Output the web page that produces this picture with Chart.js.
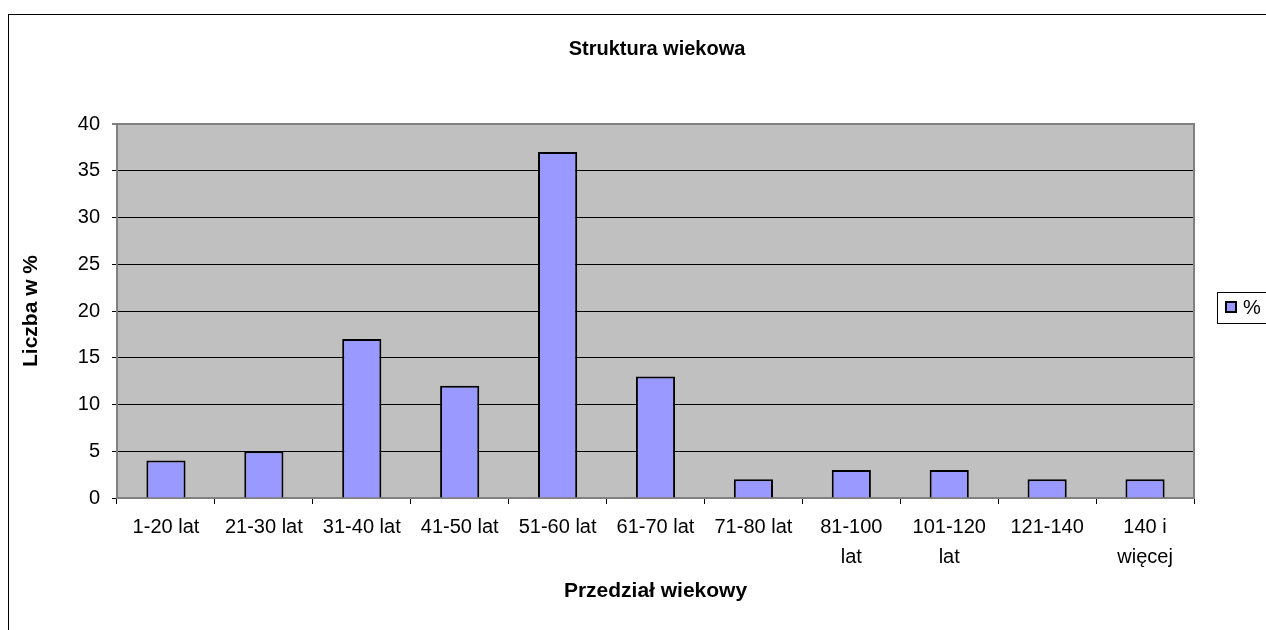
<!DOCTYPE html>
<html>
<head>
<meta charset="utf-8">
<title>Struktura wiekowa</title>
<script src="https://cdn.jsdelivr.net/npm/chart.js@4/dist/chart.umd.min.js"></script>
<style>
  html, body { margin: 0; padding: 0; background: #fff; }
  #wrap { width: 1266px; height: 630px; position: relative; }
</style>
</head>
<body>
<div id="wrap"><canvas id="chart"></canvas></div>
<script>
  // Przedziały wiekowe (etykiety osi X, dłuższe łamane na dwie linie)
  var categories = [
    "1-20 lat", "21-30 lat", "31-40 lat", "41-50 lat", "51-60 lat",
    "61-70 lat", "71-80 lat", ["81-100", "lat"], ["101-120", "lat"],
    "121-140", ["140 i", "więcej"]
  ];
  // Udział w procentach
  var values = [4, 5, 17, 12, 37, 13, 2, 3, 3, 2, 2];
  // Podziałka osi Y
  var yTicks = [0, 5, 10, 15, 20, 25, 30, 35, 40];
  var seriesName = "%";
  var chartTitle = "Struktura wiekowa";

  var FONT = "Arial, 'Liberation Sans', sans-serif";

  // Ramka wykresu, tło obszaru kreślenia, tytuł i legenda w stylu Excela
  var excelFrame = {
    id: "excelFrame",
    beforeDraw: function (chart) {
      var ctx = chart.ctx;
      var a = chart.chartArea;
      ctx.save();
      ctx.fillStyle = "#fff";
      ctx.fillRect(0, 0, chart.width, chart.height);
      ctx.strokeStyle = "#000";
      ctx.lineWidth = 1;
      ctx.strokeRect(8.5, 14.5, chart.width + 20, chart.height + 20);
      ctx.fillStyle = "#c0c0c0";
      ctx.fillRect(a.left, a.top, a.right - a.left, a.bottom - a.top);

      // tytuł nad obszarem kreślenia
      ctx.fillStyle = "#000";
      ctx.font = "bold 20px " + FONT;
      ctx.textAlign = "center";
      ctx.textBaseline = "middle";
      ctx.fillText(chartTitle, 657, 49);
      ctx.restore();
    },
    afterDraw: function (chart) {
      var ctx = chart.ctx;
      var a = chart.chartArea;
      ctx.save();
      // prawa krawędź obszaru kreślenia
      ctx.strokeStyle = "#808080";
      ctx.lineWidth = 2;
      ctx.beginPath();
      ctx.moveTo(a.right, a.top - 1);
      ctx.lineTo(a.right, a.bottom);
      ctx.stroke();

      // legenda
      var ds = chart.data.datasets[0];
      ctx.fillStyle = "#fff";
      ctx.fillRect(1217, 292, 60, 31);
      ctx.strokeStyle = "#000";
      ctx.lineWidth = 1;
      ctx.strokeRect(1217.5, 292.5, 60, 31);
      ctx.fillStyle = ds.backgroundColor;
      ctx.fillRect(1226, 302, 10, 10);
      ctx.strokeStyle = ds.borderColor;
      ctx.lineWidth = 2;
      ctx.strokeRect(1226, 302, 10, 10);
      ctx.fillStyle = "#000";
      ctx.font = "20px " + FONT;
      ctx.textBaseline = "middle";
      ctx.fillText(ds.label, 1243, 308);
      ctx.restore();
    }
  };

  var ctx = document.getElementById("chart").getContext("2d");
  var chart = new Chart(ctx, {
    type: "bar",
    data: {
      labels: categories,
      datasets: [
        {
          label: seriesName,
          data: values,
          backgroundColor: "#9999ff",
          borderColor: "#000",
          borderWidth: 2,
          barPercentage: 0.4,
          categoryPercentage: 1.0
        }
      ]
    },
    options: {
      responsive: true,
      maintainAspectRatio: false,
      animation: false,
      layout: {
        padding: { left: 9, right: 72, top: 124, bottom: 0 }
      },
      plugins: {
        legend: { display: false },
        tooltip: { enabled: false },
        title: { display: false }
      },
      scales: {
        x: {
          grid: {
            display: true,
            drawOnChartArea: false,
            drawTicks: true,
            tickLength: 6,
            tickColor: "#000",
            offset: true
          },
          border: { color: "#808080", width: 2 },
          ticks: {
            color: "#000",
            font: { family: FONT, size: 20, lineHeight: 1.5 },
            padding: 8,
            maxRotation: 0,
            autoSkip: false
          },
          title: {
            display: true,
            text: "Przedział wiekowy",
            color: "#000",
            font: { family: FONT, size: 21, weight: "bold", lineHeight: 1.2 },
            padding: { top: 0, bottom: 26 }
          },
          afterFit: function (scale) {
            scale.height = 132;
          }
        },
        y: {
          min: 0,
          max: 40,
          afterBuildTicks: function (scale) {
            scale.ticks = yTicks.map(function (v) { return { value: v }; });
          },
          grid: {
            color: function (c) { return c.tick && c.tick.value === 40 ? "#808080" : "#000"; },
            lineWidth: function (c) { return c.tick && c.tick.value === 40 ? 2 : 1; },
            tickLength: 5,
            tickColor: "#000",
            tickWidth: 1
          },
          border: { color: "#808080", width: 2 },
          ticks: {
            color: "#000",
            font: { family: FONT, size: 20 },
            padding: 12
          },
          title: {
            display: true,
            text: "Liczba w %",
            color: "#000",
            font: { family: FONT, size: 21, weight: "bold", lineHeight: 1.2 },
            padding: { top: 10, bottom: 0 }
          },
          afterFit: function (scale) {
            scale.width = 108;
          }
        }
      }
    },
    plugins: [excelFrame]
  });
</script>
</body>
</html>
